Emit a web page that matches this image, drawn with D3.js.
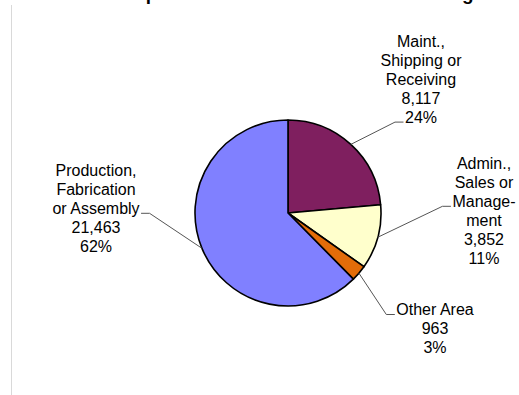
<!DOCTYPE html>
<html>
<head>
<meta charset="utf-8">
<script src="https://cdn.jsdelivr.net/npm/d3@7"></script>
<style>
  html, body { margin: 0; padding: 0; background: #fff; }
  svg { display: block; }
  text { font-family: "Liberation Sans", Arial, sans-serif; fill: #000; }
</style>
</head>
<body>
<svg id="chart" width="519" height="395"></svg>
<script>
// Workplace area breakdown
const categories = [
  "Maint., Shipping or Receiving",
  "Admin., Sales or Management",
  "Other Area",
  "Production, Fabrication or Assembly"
];
const categoryLines = [
  ["Maint.,", "Shipping or", "Receiving"],
  ["Admin.,", "Sales or", "Manage-", "ment"],
  ["Other Area"],
  ["Production,", "Fabrication", "or Assembly"]
];
const values = [8117, 3852, 963, 21463];
const sliceColors = ["#7F1F5F", "#FFFFCC", "#E36C09", "#8080FF"];
const titleText = "Reported Claims from the Work Setting";

// label block placement relative to the pie centre:
// centre x of the block, first baseline, which line the leader meets
const labelLayout = [
  { dx: 133, dy: -166, attach: 4 },
  { dx: 196, dy: -44, attach: 2 },
  { dx: 147, dy: 102, attach: 0 },
  { dx: -192, dy: -37, attach: 2 }
];

const W = 519, H = 395;
const cx = 288, cy = 213, radius = 93;
const lineH = 18.9;

const svg = d3.select("#chart");

// chart area edge
svg.append("line")
  .attr("x1", 11.5).attr("x2", 11.5)
  .attr("y1", 5).attr("y2", H)
  .attr("stroke", "#d9d9d9").attr("stroke-width", 1);

// title, sized so its run spans the header; it sits above the top edge
const title = svg.append("text")
  .attr("font-weight", "bold")
  .attr("font-size", 18)
  .attr("x", 0).attr("y", 0)
  .text(titleText);
{
  const node = title.node();
  const ip = titleText.indexOf("p");
  const ig = titleText.lastIndexOf("g");
  const ep = node.getExtentOfChar(ip);
  const eg = node.getExtentOfChar(ig);
  const up = (ep.x + ep.width * 0.2) / 18;
  const ug = (eg.x + eg.width * 0.5) / 18;
  const fs = (468 - 148) / (ug - up);
  title.attr("font-size", fs)
    .attr("x", 148 - fs * up)
    .attr("y", -0.2);
}

const total = d3.sum(values);
const fmtNum = d3.format(",");
const fmtPct = d3.format(".0%");

const pie = d3.pie().sort(null).value(d => d)
  .startAngle(0).endAngle(2 * Math.PI);
const arcs = pie(values);
const arc = d3.arc().innerRadius(0).outerRadius(radius);

const g = svg.append("g").attr("transform", `translate(${cx},${cy})`);

g.selectAll("path.slice")
  .data(arcs)
  .join("path")
  .attr("class", "slice")
  .attr("d", arc)
  .attr("fill", (d, i) => sliceColors[i])
  .attr("stroke", "#000")
  .attr("stroke-width", 1.6)
  .attr("stroke-linejoin", "round");

// labels with leader lines
arcs.forEach((d, i) => {
  const lay = labelLayout[i];
  const lines = categoryLines[i].concat([fmtNum(values[i]), fmtPct(values[i] / total)]);
  const t = g.append("text")
    .attr("text-anchor", "middle")
    .attr("font-size", 16);
  const spans = lines.map((s, k) =>
    t.append("tspan")
      .attr("x", lay.dx)
      .attr("y", lay.dy + k * lineH)
      .text(s)
  );
  const mid = (d.startAngle + d.endAngle) / 2;
  const px = radius * Math.sin(mid);
  const py = -radius * Math.cos(mid);
  const attachW = spans[lay.attach].node().getComputedTextLength();
  const ly = lay.dy + lay.attach * lineH - 0.5;
  const onRight = lay.dx > 0;
  const endX = onRight ? lay.dx - attachW / 2 - 1.5 : lay.dx + attachW / 2 + 1.5;
  const elbowX = onRight ? endX - 8.5 : endX + 8.5;
  g.append("polyline")
    .attr("points", [[px, py], [elbowX, ly], [endX, ly]].map(p => p.join(",")).join(" "))
    .attr("fill", "none")
    .attr("stroke", "#555")
    .attr("stroke-width", 1);
});
</script>
</body>
</html>
